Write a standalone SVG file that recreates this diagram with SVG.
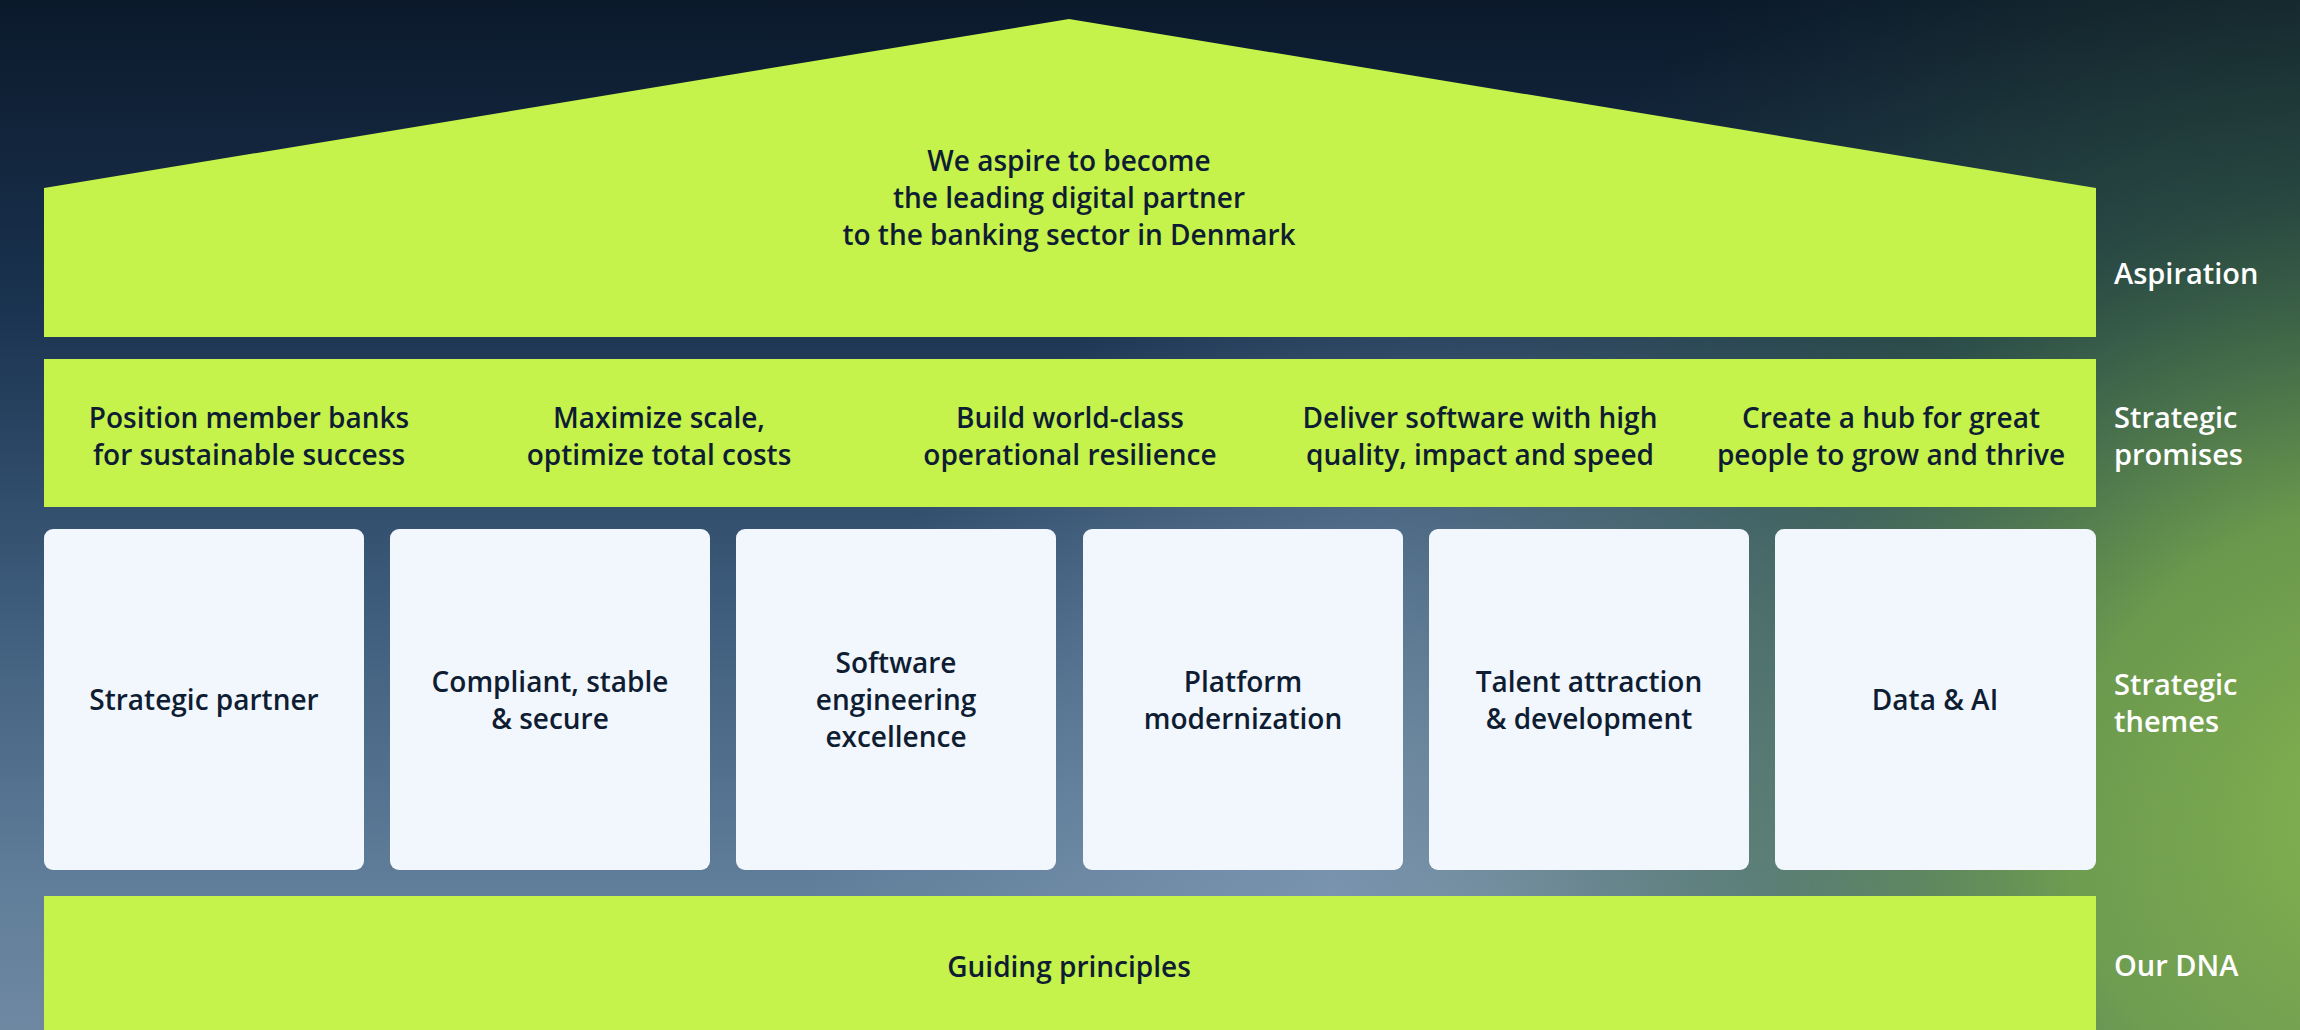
<svg xmlns="http://www.w3.org/2000/svg" width="2300" height="1030" viewBox="0 0 2300 1030">
<defs>
<linearGradient id="bgV" x1="0" y1="0" x2="0" y2="1">
<stop offset="0" stop-color="#0b192b"/>
<stop offset="0.3" stop-color="#1a3350"/>
<stop offset="0.6" stop-color="#3f5e7d"/>
<stop offset="0.85" stop-color="#5f7d99"/>
<stop offset="1" stop-color="#6f88a2"/>
</linearGradient>
<radialGradient id="bgLight" cx="1500" cy="900" r="700" gradientUnits="userSpaceOnUse">
<stop offset="0" stop-color="#8fa6c0" stop-opacity="0.7"/>
<stop offset="1" stop-color="#8fa6c0" stop-opacity="0"/>
</radialGradient>
<radialGradient id="bgGreen" cx="2380" cy="820" r="1050" gradientUnits="userSpaceOnUse">
<stop offset="0" stop-color="#84b24f" stop-opacity="1"/>
<stop offset="0.3" stop-color="#6f9f48" stop-opacity="0.9"/>
<stop offset="0.6" stop-color="#3f6a3c" stop-opacity="0.45"/>
<stop offset="1" stop-color="#2a4a35" stop-opacity="0"/>
</radialGradient>
<style>
.lime{fill:#c5f24b}
.box{fill:#f2f7fd}
.t{font-family:"Open Sans","Noto Sans",sans-serif;font-weight:600;font-size:28px;fill:#0f1d33;text-anchor:middle}
.lab{font-family:"Open Sans","Noto Sans",sans-serif;font-weight:600;font-size:29px;fill:#ffffff}
</style>
</defs>
<rect width="2300" height="1030" fill="url(#bgV)"/>
<rect width="2300" height="1030" fill="url(#bgLight)"/>
<rect width="2300" height="1030" fill="url(#bgGreen)"/>

<g id="aspiration">
<polygon class="lime" points="44,188 1069,19 2096,188 2096,337 44,337"/>
<text class="t" x="1069" y="171">We aspire to become</text>
<text class="t" x="1069" y="208">the leading digital partner</text>
<text class="t" x="1069" y="245">to the banking sector in Denmark</text>
</g>

<g id="promises">
<rect class="lime" x="44" y="359" width="2052" height="148"/>
<text class="t" x="249" y="428">Position member banks</text>
<text class="t" x="249" y="465">for sustainable success</text>
<text class="t" x="659" y="428">Maximize scale,</text>
<text class="t" x="659" y="465">optimize total costs</text>
<text class="t" x="1070" y="428">Build world-class</text>
<text class="t" x="1070" y="465">operational resilience</text>
<text class="t" x="1480" y="428">Deliver software with high</text>
<text class="t" x="1480" y="465">quality, impact and speed</text>
<text class="t" x="1891" y="428">Create a hub for great</text>
<text class="t" x="1891" y="465">people to grow and thrive</text>
</g>

<g id="theme-strategic-partner">
<rect class="box" x="44" y="529" width="320" height="341" rx="9"/>
<text class="t" x="204" y="710">Strategic partner</text>
</g>
<g id="theme-compliant">
<rect class="box" x="390" y="529" width="320" height="341" rx="9"/>
<text class="t" x="550" y="692">Compliant, stable</text>
<text class="t" x="550" y="729">&amp; secure</text>
</g>
<g id="theme-software">
<rect class="box" x="736" y="529" width="320" height="341" rx="9"/>
<text class="t" x="896" y="673">Software</text>
<text class="t" x="896" y="710">engineering</text>
<text class="t" x="896" y="747">excellence</text>
</g>
<g id="theme-platform">
<rect class="box" x="1083" y="529" width="320" height="341" rx="9"/>
<text class="t" x="1243" y="692">Platform</text>
<text class="t" x="1243" y="729">modernization</text>
</g>
<g id="theme-talent">
<rect class="box" x="1429" y="529" width="320" height="341" rx="9"/>
<text class="t" x="1589" y="692">Talent attraction</text>
<text class="t" x="1589" y="729">&amp; development</text>
</g>
<g id="theme-data">
<rect class="box" x="1775" y="529" width="321" height="341" rx="9"/>
<text class="t" x="1935" y="710">Data &amp; AI</text>
</g>

<g id="dna">
<rect class="lime" x="44" y="896" width="2052" height="140"/>
<text class="t" x="1069" y="977">Guiding principles</text>
</g>

<g id="labels">
<text class="lab" x="2114" y="284">Aspiration</text>
<text class="lab" x="2114" y="428">Strategic</text>
<text class="lab" x="2114" y="465">promises</text>
<text class="lab" x="2114" y="695">Strategic</text>
<text class="lab" x="2114" y="732">themes</text>
<text class="lab" x="2114" y="976">Our DNA</text>
</g>
<g id="connectors"/>
</svg>
